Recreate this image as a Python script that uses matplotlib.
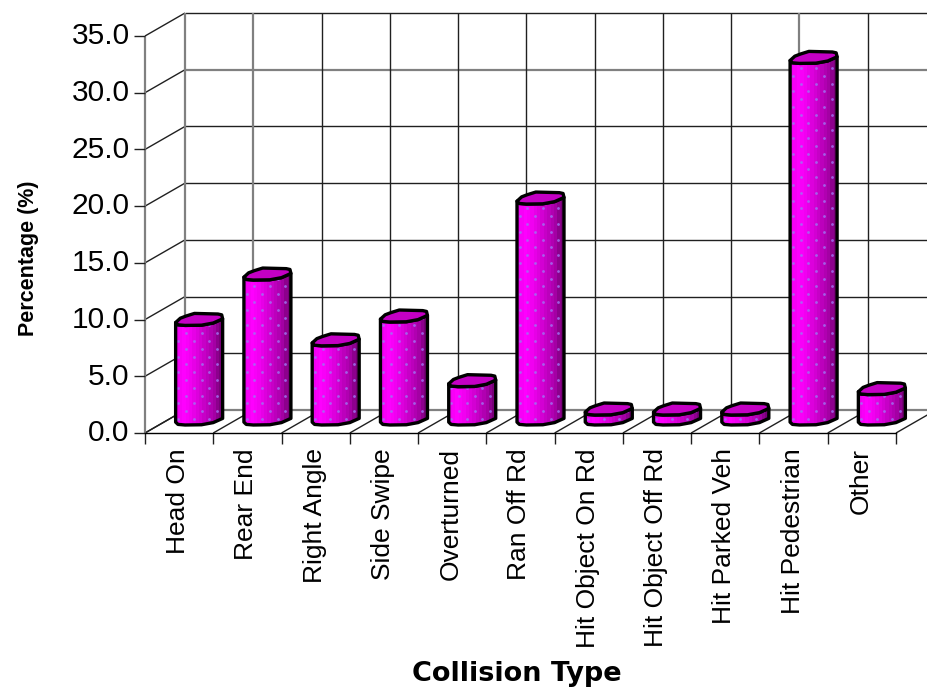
#!/usr/bin/env python3
"""Collision types as a 3D-look cylinder column chart (oblique projection)."""
import matplotlib

matplotlib.use("Agg")
import matplotlib.pyplot as plt
import numpy as np
from matplotlib.colors import LinearSegmentedColormap
from matplotlib.patches import Polygon, Rectangle
from matplotlib.transforms import ScaledTranslation

plt.rcParams["font.family"] = ["Liberation Sans", "DejaVu Sans"]

categories = [
    "Head On", "Rear End", "Right Angle", "Side Swipe", "Overturned", "Ran Off Rd",
    "Hit Object On Rd", "Hit Object Off Rd", "Hit Parked Veh", "Hit Pedestrian", "Other",
]
percentages = [9.0, 13.0, 7.2, 9.3, 3.6, 19.7, 1.1, 1.1, 1.1, 32.1, 2.9]
y_ticks = [0, 5, 10, 15, 20, 25, 30, 35]

W, H = 928, 690
fig = plt.figure(figsize=(W / 100, H / 100), dpi=100)
# axes sit on the front plane of the 3D box
left, right, bottom, top = 145, 896, 433, 36
ax = fig.add_axes([left / W, 1 - bottom / H, (right - left) / W, (bottom - top) / H])
ax.set_xlim(0, len(categories))
ax.set_ylim(0, 35)

# depth of the box, in data units
px_x = len(categories) / (right - left)
px_y = 35 / (bottom - top)
DX = 40 * px_x
DY = 23 * px_y


def grid_line(xs, ys, color="#202020", lw=1.0, z=1):
    ax.plot(xs, ys, color=color, lw=lw, zorder=z, clip_on=False, solid_capstyle="butt")


n = len(categories)
far_right = n + 1
for i, v in enumerate(y_ticks):
    grey = i in (0, 6)
    grid_line([DX, far_right], [v + DY, v + DY], "#808080" if grey else "#202020", 1.6 if grey else 1.0)
    grid_line([0, DX], [v, v + DY], "#202020", 1.0)
for i in range(n + 1):
    grey = i in (0, 1, 9)
    grid_line([i + DX, i + DX], [DY, 35 + DY], "#808080" if grey else "#202020", 1.6 if grey else 1.0)
    grid_line([i, i + DX], [0, DY], "#202020", 1.0)
grid_line([0, 0], [0, 35], "#808080", 1.6)

# rim outline of one cylinder: x as fraction of width, y as fraction of ellipse height
rim_front_x = np.array([0.0, 0.05, 0.2, 0.55, 0.8, 1.0])
rim_front_y = np.array([-0.26, -0.45, -0.5, -0.48, -0.3, 0.05])
rim_back_x = np.array([0.98, 0.9, 0.4, 0.22, 0.1])
rim_back_y = np.array([0.38, 0.45, 0.5, 0.28, 0.1])

BAR_W = 47 * px_x
ELL_H = 12 * px_y
N_BANDS = 14
band_colors = LinearSegmentedColormap.from_list(
    "cyl", ["#f000f0", "#ff00ff", "#ee00ee", "#d800d8", "#c000c0", "#a800a8", "#780078"]
)


def draw_cylinder(i, value):
    x0 = i + 0.5 + DX / 2 - BAR_W / 2
    top_y = DY / 2 + value
    base = DY / 2 + 2.5 * px_y
    fx = x0 + rim_front_x * BAR_W
    top_front = top_y + rim_front_y * ELL_H
    bot_front = base + rim_front_y * ELL_H
    body = np.vstack([
        np.column_stack([fx, bot_front]),
        np.column_stack([fx[::-1], top_front[::-1]]),
    ])
    clip = Polygon(body, closed=True, transform=ax.transData, fc="none", ec="none", clip_on=False)
    ax.add_patch(clip)
    for b in range(N_BANDS):
        r = Rectangle((x0 + b / N_BANDS * BAR_W, base - ELL_H), BAR_W / N_BANDS * 1.05,
                      value + 2 * ELL_H, fc=band_colors(b / (N_BANDS - 1)), ec="none", zorder=3)
        ax.add_patch(r)
        r.set_clip_path(clip)
        r.set_clip_box(fig.bbox)
    # dotted texture, a checkerboard of small lavender points
    gx, gy = np.meshgrid(np.arange(x0 + 0.04, x0 + BAR_W, 15.5 * px_x),
                         np.arange(base, top_y, 7.8 * px_y))
    gx[1::2] += 7.7 * px_x
    dots = ax.scatter(gx.ravel(), gy.ravel(), s=4, color="#a070f0", linewidths=0, zorder=4, alpha=0.85)
    dots.set_clip_path(clip)
    dots.set_clip_box(fig.bbox)
    ax.add_patch(Polygon(body, closed=True, fc="none", ec="black", lw=2.4, zorder=5,
                         joinstyle="round", clip_on=False))
    lid = np.vstack([
        np.column_stack([fx, top_front]),
        np.column_stack([x0 + rim_back_x * BAR_W, top_y + rim_back_y * ELL_H]),
    ])
    ax.add_patch(Polygon(lid, closed=True, fc="#c400c4", ec="black", lw=2.4, zorder=6,
                         joinstyle="round", clip_on=False))


for i, value in enumerate(percentages):
    draw_cylinder(i, value)

for s in ax.spines.values():
    s.set_visible(False)
ax.patch.set_visible(False)
ax.spines["bottom"].set_visible(True)
ax.spines["bottom"].set_linewidth(1.0)
ax.set_yticks(y_ticks)
ax.set_yticklabels([f"{v:.1f}" for v in y_ticks], fontsize=21.5)
ax.set_xticks(range(n + 1))
ax.set_xticklabels([""] * (n + 1))
ax.tick_params(axis="y", length=8, width=1.0, pad=3, color="#202020")
ax.tick_params(axis="x", length=8, width=1.0, color="#202020")

# tick labels sit a little above their ticks
nudge = ScaledTranslation(0, 2 / 72, fig.dpi_scale_trans)
for label in ax.get_yticklabels():
    label.set_transform(label.get_transform() + nudge)

for i, name in enumerate(categories):
    ax.annotate(name, (i + 0.5, 0), xytext=(-1, -15), textcoords="offset pixels",
                rotation=90, ha="center", va="top", fontsize=19, annotation_clip=False)

fig.text(517 / W, 1 - 674 / H, "Collision Type", ha="center", va="center", fontsize=19.5,
         fontweight="bold", family="DejaVu Sans")
fig.text(29 / W, 1 - 258 / H, "Percentage (%)", ha="center", va="center", rotation=90,
         fontsize=15.5, fontweight="bold")

fig.savefig("out.png", dpi=100)
